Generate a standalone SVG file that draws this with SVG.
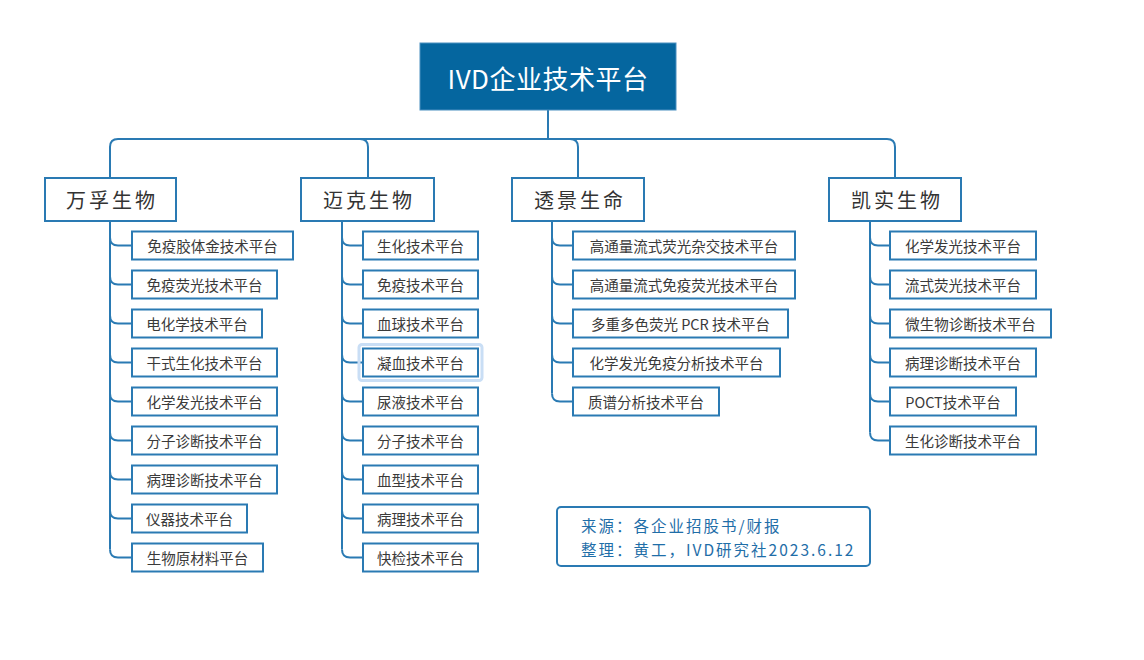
<svg xmlns="http://www.w3.org/2000/svg" width="1144" height="660" viewBox="0 0 1144 660">
<style>
.bg{fill:#ffffff}
.root{fill:#05669f;stroke:#4a8fc0;stroke-width:1}
.rt{font-family:"Noto Sans CJK SC","Noto Sans",sans-serif;font-size:26px;fill:#ffffff;text-anchor:middle;dominant-baseline:central;letter-spacing:0.5px}
.l1{fill:#ffffff;stroke:#2a7ab3;stroke-width:2}
.l1t{font-family:"Noto Sans CJK SC",sans-serif;font-size:20px;fill:#333333;text-anchor:middle;dominant-baseline:central;letter-spacing:3px}
.c{fill:#ffffff;stroke:#2a7ab3;stroke-width:2}
.ct{font-family:"Noto Sans CJK SC",sans-serif;font-size:14.5px;fill:#3a3a3a;text-anchor:middle;dominant-baseline:central}
.ln{fill:none;stroke:#2a7ab3;stroke-width:2}
.src{fill:#ffffff;stroke:#2a7ab3;stroke-width:2}
.st{font-family:"Noto Sans CJK SC",sans-serif;font-size:15.5px;fill:#1f6ea8;letter-spacing:2px}
.sel{fill:none;stroke:#c9def5;stroke-width:3}
</style>
<rect class="bg" x="0" y="0" width="1144" height="660"/>

<g id="connectors">
  <path class="ln" d="M548,110 V139"/>
  <path class="ln" d="M110,178 V147 Q110,139 118,139 H887 Q895,139 895,147 V178"/>
  <path class="ln" d="M360,139 Q368,139 368,147 V178"/>
  <path class="ln" d="M570,139 Q578,139 578,147 V178"/>
  <path class="ln" d="M110,221 V549.5"/>
  <path class="ln" d="M110,237.5 Q110,245.5 118,245.5 H132"/>
  <path class="ln" d="M110,276.5 Q110,284.5 118,284.5 H132"/>
  <path class="ln" d="M110,315.5 Q110,323.5 118,323.5 H132"/>
  <path class="ln" d="M110,354.5 Q110,362.5 118,362.5 H132"/>
  <path class="ln" d="M110,393.5 Q110,401.5 118,401.5 H132"/>
  <path class="ln" d="M110,432.5 Q110,440.5 118,440.5 H132"/>
  <path class="ln" d="M110,471.5 Q110,479.5 118,479.5 H132"/>
  <path class="ln" d="M110,510.5 Q110,518.5 118,518.5 H132"/>
  <path class="ln" d="M110,549.5 Q110,557.5 118,557.5 H132"/>
  <path class="ln" d="M342,221 V549.5"/>
  <path class="ln" d="M342,237.5 Q342,245.5 350,245.5 H363"/>
  <path class="ln" d="M342,276.5 Q342,284.5 350,284.5 H363"/>
  <path class="ln" d="M342,315.5 Q342,323.5 350,323.5 H363"/>
  <path class="ln" d="M342,354.5 Q342,362.5 350,362.5 H363"/>
  <path class="ln" d="M342,393.5 Q342,401.5 350,401.5 H363"/>
  <path class="ln" d="M342,432.5 Q342,440.5 350,440.5 H363"/>
  <path class="ln" d="M342,471.5 Q342,479.5 350,479.5 H363"/>
  <path class="ln" d="M342,510.5 Q342,518.5 350,518.5 H363"/>
  <path class="ln" d="M342,549.5 Q342,557.5 350,557.5 H363"/>
  <path class="ln" d="M552,221 V393.5"/>
  <path class="ln" d="M552,237.5 Q552,245.5 560,245.5 H573"/>
  <path class="ln" d="M552,276.5 Q552,284.5 560,284.5 H573"/>
  <path class="ln" d="M552,315.5 Q552,323.5 560,323.5 H573"/>
  <path class="ln" d="M552,354.5 Q552,362.5 560,362.5 H573"/>
  <path class="ln" d="M552,393.5 Q552,401.5 560,401.5 H573"/>
  <path class="ln" d="M870,221 V432.5"/>
  <path class="ln" d="M870,237.5 Q870,245.5 878,245.5 H890"/>
  <path class="ln" d="M870,276.5 Q870,284.5 878,284.5 H890"/>
  <path class="ln" d="M870,315.5 Q870,323.5 878,323.5 H890"/>
  <path class="ln" d="M870,354.5 Q870,362.5 878,362.5 H890"/>
  <path class="ln" d="M870,393.5 Q870,401.5 878,401.5 H890"/>
  <path class="ln" d="M870,432.5 Q870,440.5 878,440.5 H890"/>
</g>

<g id="root">
  <rect class="root" x="420" y="43" width="256" height="67"/>
  <text class="rt" x="548" y="77">IVD企业技术平台</text>
</g>

<g id="wanfu">
  <rect class="l1" x="45" y="178" width="131" height="43"/>
  <text class="l1t" x="112" y="199.5">万孚生物</text>
</g>
<g id="maike">
  <rect class="l1" x="301" y="178" width="133" height="43"/>
  <text class="l1t" x="369" y="199.5">迈克生物</text>
</g>
<g id="toujing">
  <rect class="l1" x="512" y="178" width="132" height="43"/>
  <text class="l1t" x="580" y="199.5">透景生命</text>
</g>
<g id="kaishi">
  <rect class="l1" x="829" y="178" width="132" height="43"/>
  <text class="l1t" x="897" y="199.5">凯实生物</text>
</g>

<g id="wanfu-children">
  <g id="wf1"><rect class="c" x="132" y="231.5" width="161" height="28"/><text class="ct" x="212.5" y="245.5">免疫胶体金技术平台</text></g>
  <g id="wf2"><rect class="c" x="132" y="270.5" width="145" height="28"/><text class="ct" x="204.5" y="284.5">免疫荧光技术平台</text></g>
  <g id="wf3"><rect class="c" x="132" y="309.5" width="130" height="28"/><text class="ct" x="197" y="323.5">电化学技术平台</text></g>
  <g id="wf4"><rect class="c" x="132" y="348.5" width="145" height="28"/><text class="ct" x="204.5" y="362.5">干式生化技术平台</text></g>
  <g id="wf5"><rect class="c" x="132" y="387.5" width="145" height="28"/><text class="ct" x="204.5" y="401.5">化学发光技术平台</text></g>
  <g id="wf6"><rect class="c" x="132" y="426.5" width="145" height="28"/><text class="ct" x="204.5" y="440.5">分子诊断技术平台</text></g>
  <g id="wf7"><rect class="c" x="132" y="465.5" width="145" height="28"/><text class="ct" x="204.5" y="479.5">病理诊断技术平台</text></g>
  <g id="wf8"><rect class="c" x="132" y="504.5" width="115" height="28"/><text class="ct" x="189.5" y="518.5">仪器技术平台</text></g>
  <g id="wf9"><rect class="c" x="132" y="543.5" width="131" height="28"/><text class="ct" x="197.5" y="557.5">生物原材料平台</text></g>
</g>

<g id="maike-children">
  <g id="mk1"><rect class="c" x="363" y="231.5" width="115" height="28"/><text class="ct" x="420.5" y="245.5">生化技术平台</text></g>
  <g id="mk2"><rect class="c" x="363" y="270.5" width="115" height="28"/><text class="ct" x="420.5" y="284.5">免疫技术平台</text></g>
  <g id="mk3"><rect class="c" x="363" y="309.5" width="115" height="28"/><text class="ct" x="420.5" y="323.5">血球技术平台</text></g>
  <g id="mk4"><rect class="sel" x="359" y="344.5" width="123" height="36" rx="3"/><rect class="c" x="363" y="348.5" width="115" height="28"/><text class="ct" x="420.5" y="362.5">凝血技术平台</text></g>
  <g id="mk5"><rect class="c" x="363" y="387.5" width="115" height="28"/><text class="ct" x="420.5" y="401.5">尿液技术平台</text></g>
  <g id="mk6"><rect class="c" x="363" y="426.5" width="115" height="28"/><text class="ct" x="420.5" y="440.5">分子技术平台</text></g>
  <g id="mk7"><rect class="c" x="363" y="465.5" width="115" height="28"/><text class="ct" x="420.5" y="479.5">血型技术平台</text></g>
  <g id="mk8"><rect class="c" x="363" y="504.5" width="115" height="28"/><text class="ct" x="420.5" y="518.5">病理技术平台</text></g>
  <g id="mk9"><rect class="c" x="363" y="543.5" width="115" height="28"/><text class="ct" x="420.5" y="557.5">快检技术平台</text></g>
</g>

<g id="toujing-children">
  <g id="tj1"><rect class="c" x="573" y="231.5" width="222" height="28"/><text class="ct" x="684" y="245.5">高通量流式荧光杂交技术平台</text></g>
  <g id="tj2"><rect class="c" x="573" y="270.5" width="222" height="28"/><text class="ct" x="684" y="284.5">高通量流式免疫荧光技术平台</text></g>
  <g id="tj3"><rect class="c" x="573" y="309.5" width="215" height="28"/><text class="ct" x="680.5" y="323.5">多重多色荧光 PCR 技术平台</text></g>
  <g id="tj4"><rect class="c" x="573" y="348.5" width="207" height="28"/><text class="ct" x="676.5" y="362.5">化学发光免疫分析技术平台</text></g>
  <g id="tj5"><rect class="c" x="573" y="387.5" width="146" height="28"/><text class="ct" x="646" y="401.5">质谱分析技术平台</text></g>
</g>

<g id="kaishi-children">
  <g id="ks1"><rect class="c" x="890" y="231.5" width="146" height="28"/><text class="ct" x="963" y="245.5">化学发光技术平台</text></g>
  <g id="ks2"><rect class="c" x="890" y="270.5" width="146" height="28"/><text class="ct" x="963" y="284.5">流式荧光技术平台</text></g>
  <g id="ks3"><rect class="c" x="890" y="309.5" width="161" height="28"/><text class="ct" x="970.5" y="323.5">微生物诊断技术平台</text></g>
  <g id="ks4"><rect class="c" x="890" y="348.5" width="146" height="28"/><text class="ct" x="963" y="362.5">病理诊断技术平台</text></g>
  <g id="ks5"><rect class="c" x="890" y="387.5" width="126" height="28"/><text class="ct" x="953" y="401.5">POCT技术平台</text></g>
  <g id="ks6"><rect class="c" x="890" y="426.5" width="146" height="28"/><text class="ct" x="963" y="440.5">生化诊断技术平台</text></g>
</g>

<g id="source">
  <rect class="src" x="557" y="507" width="313" height="59" rx="4"/>
  <text class="st" x="581" y="532">来源：各企业招股书/财报</text>
  <text class="st" x="581" y="556">整理：黄工，IVD研究社2023.6.12</text>
</g>
</svg>
